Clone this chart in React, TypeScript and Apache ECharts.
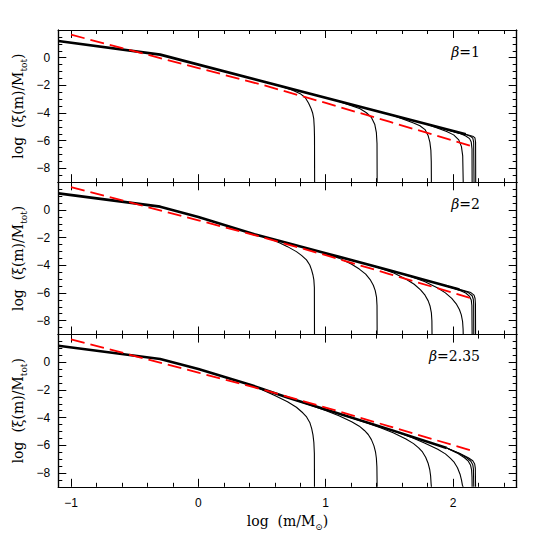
import React, { useEffect, useRef } from "react";
import * as echarts from "echarts";

// ---------- data ----------
const xRange = [-1.1, 2.5];
const yRange = [-9, 2];
const xMajorTicks = [-1, 0, 1, 2];
const xMinorTicks = [-0.8, -0.6, -0.4, -0.2, 0.2, 0.4, 0.6, 0.8, 1.2, 1.4, 1.6, 1.8, 2.2, 2.4];
const yMajorTicks = [-8, -6, -4, -2, 0];
const yMinorTicks = [-8.5, -7.5, -7, -6.5, -5.5, -5, -4.5, -3.5, -3, -2.5, -1.5, -1, -0.5, 0.5, 1, 1.5];
const betaLabels = ["1", "2", "2.35"];

// red dashed reference line (same in each panel)
const redLine = [
  [-1.0, 1.66], [0.0, -0.75], [0.5, -1.96], [1.0, -3.27], [1.5, -4.63], [2.0, -5.99], [2.177, -6.47],
];

// beta = 1
const topTrunk = [[-1.1, 1.2], [-0.3, 0.22], [2.1, -5.54]];
const topCurves = [
  [[0.61, -1.96], [0.74, -2.36], [0.8, -2.6], [0.84, -2.9], [0.865, -3.28], [0.885, -3.67], [0.898, -4.02], [0.906, -4.4], [0.91, -5.0], [0.912, -5.7], [0.913, -9]],
  [[1.1, -3.14], [1.27, -3.69], [1.32, -3.98], [1.36, -4.34], [1.385, -4.81], [1.398, -5.42], [1.403, -6.2], [1.404, -9]],
  [[1.53, -4.17], [1.69, -4.72], [1.74, -4.92], [1.78, -5.2], [1.805, -5.65], [1.818, -6.1], [1.826, -6.7], [1.829, -7.5], [1.83, -9]],
  [[1.8, -4.82], [1.95, -5.33], [2.005, -5.58], [2.045, -5.94], [2.066, -6.43], [2.076, -7.1], [2.08, -9]],
  [[1.9, -5.06], [2.05, -5.47], [2.1, -5.66], [2.13, -5.85], [2.143, -6.1], [2.149, -6.6], [2.15, -9]],
  [[1.9, -5.06], [2.1, -5.56], [2.14, -5.7], [2.155, -5.82], [2.162, -6.1], [2.165, -9]],
  [[2.1, -5.54], [2.16, -5.7], [2.172, -5.8], [2.177, -6.1], [2.178, -9]],
];

// beta = 2
const midTrunk = [[-1.1, 1.2], [-0.3, 0.24], [0.0, -0.5], [0.44, -1.75], [0.64, -2.24], [1.0, -3.12], [1.5, -4.35], [1.95, -5.49], [2.05, -5.74]];
const midCurves = [
  [[0.45, -1.78], [0.55, -2.03], [0.64, -2.38], [0.7, -2.65], [0.77, -3.01], [0.81, -3.28], [0.849, -3.61], [0.875, -3.98], [0.889, -4.33], [0.9, -4.7], [0.907, -5.05], [0.911, -5.6], [0.912, -9]],
  [[0.944, -2.98], [1.104, -3.48], [1.204, -3.92], [1.264, -4.27], [1.314, -4.64], [1.349, -5.03], [1.374, -5.44], [1.389, -5.83], [1.399, -6.3], [1.403, -6.9], [1.404, -9]],
  [[1.375, -4.04], [1.535, -4.56], [1.635, -5.02], [1.695, -5.37], [1.745, -5.77], [1.78, -6.16], [1.805, -6.57], [1.82, -6.96], [1.83, -7.44], [1.834, -8.0], [1.835, -9]],
  [[1.62, -4.65], [1.78, -5.18], [1.88, -5.64], [1.94, -5.99], [1.99, -6.39], [2.025, -6.78], [2.05, -7.19], [2.065, -7.58], [2.075, -8.06], [2.079, -8.6], [2.08, -9]],
  [[1.95, -5.49], [2.05, -5.8], [2.1, -6.0], [2.13, -6.25], [2.143, -6.5], [2.148, -6.9], [2.15, -9]],
  [[1.95, -5.49], [2.05, -5.76], [2.12, -5.97], [2.15, -6.2], [2.159, -6.45], [2.162, -6.8], [2.163, -9]],
  [[1.95, -5.49], [2.05, -5.74], [2.14, -5.97], [2.165, -6.15], [2.173, -6.4], [2.176, -6.8], [2.177, -9]],
];

// beta = 2.35
const botTrunk = [[-1.1, 1.2], [-0.3, 0.24], [0.0, -0.48], [0.4, -1.6], [0.7, -2.55], [1.0, -3.42], [1.5, -4.85], [1.95, -6.2]];
const botCurves = [
  [[0.4, -1.6], [0.5, -1.98], [0.6, -2.4], [0.7, -2.85], [0.77, -3.25], [0.82, -3.65], [0.85, -3.95], [0.875, -4.35], [0.89, -4.8], [0.9, -5.25], [0.907, -5.8], [0.911, -6.6], [0.912, -9]],
  [[0.7, -2.55], [0.904, -3.18], [1.004, -3.5], [1.104, -3.87], [1.204, -4.3], [1.264, -4.62], [1.304, -4.93], [1.334, -5.22], [1.359, -5.59], [1.379, -6.04], [1.391, -6.47], [1.398, -6.94], [1.402, -7.55], [1.404, -9]],
  [[1.0, -3.42], [1.33, -4.4], [1.43, -4.73], [1.53, -5.1], [1.63, -5.55], [1.69, -5.88], [1.73, -6.19], [1.76, -6.48], [1.785, -6.86], [1.805, -7.32], [1.817, -7.75], [1.824, -8.22], [1.828, -8.8], [1.83, -9]],
  [[1.3, -4.28], [1.58, -5.11], [1.68, -5.46], [1.78, -5.85], [1.88, -6.29], [1.94, -6.62], [1.98, -6.95], [2.01, -7.24], [2.035, -7.62], [2.055, -8.09], [2.067, -8.53], [2.074, -8.9], [2.08, -9]],
  [[1.95, -6.2], [2.03, -6.55], [2.09, -6.9], [2.12, -7.15], [2.138, -7.45], [2.146, -7.8], [2.149, -8.3], [2.15, -9]],
  [[1.95, -6.2], [2.05, -6.6], [2.11, -6.92], [2.14, -7.15], [2.155, -7.4], [2.16, -7.7], [2.163, -9]],
  [[1.95, -6.2], [2.05, -6.58], [2.12, -6.9], [2.155, -7.12], [2.17, -7.35], [2.175, -7.65], [2.177, -9]],
];

const trunks = [topTrunk, midTrunk, botTrunk];
const curveSets = [topCurves, midCurves, botCurves];

// ---------- layout ----------
const GRID_LEFT = 58.3;
const GRID_RIGHT = 516.7;
const PANEL_TOPS = [30, 182.3, 334.6];
const PANEL_H = 152.2;
const SERIF = "DejaVu Serif";
const SANS = "Liberation Sans";

const fmt = (v: number) => (v < 0 ? "\u2212" + Math.abs(v) : String(v));

function buildOption() {
  const grid: any[] = [];
  const xAxis: any[] = [];
  const yAxis: any[] = [];
  const series: any[] = [];
  const graphic: any[] = [];

  const axisLine = { show: true, onZero: false, lineStyle: { color: "#000", width: 1.2 } };
  const tickStyle = { color: "#000", width: 1 };

  PANEL_TOPS.forEach((top, g) => {
    grid.push({ left: GRID_LEFT, width: GRID_RIGHT - GRID_LEFT, top, height: PANEL_H, containLabel: false });
    const xb = { gridIndex: g, type: "value", min: xRange[0], max: xRange[1], splitLine: { show: false }, axisLine };
    const yb = { gridIndex: g, type: "value", min: yRange[0], max: yRange[1], splitLine: { show: false }, axisLine };
    xAxis.push(
      {
        ...xb, position: "bottom",
        axisTick: { show: true, inside: true, length: 8, customValues: xMajorTicks, lineStyle: tickStyle },
        axisLabel: { show: g === 2, customValues: xMajorTicks, formatter: fmt, margin: 10, color: "#000", fontSize: 12, fontFamily: SANS },
      },
      { ...xb, position: "bottom", axisTick: { show: true, inside: true, length: 4, customValues: xMinorTicks, lineStyle: tickStyle }, axisLabel: { show: false } },
      { ...xb, position: "top", axisTick: { show: true, inside: true, length: 8, customValues: xMajorTicks, lineStyle: tickStyle }, axisLabel: { show: false } },
      { ...xb, position: "top", axisTick: { show: true, inside: true, length: 4, customValues: xMinorTicks, lineStyle: tickStyle }, axisLabel: { show: false } }
    );
    yAxis.push(
      {
        ...yb, position: "left",
        axisTick: { show: true, inside: true, length: 8, customValues: yMajorTicks, lineStyle: tickStyle },
        axisLabel: { show: true, customValues: yMajorTicks, formatter: fmt, margin: 8, color: "#000", fontSize: 12, fontFamily: SANS },
      },
      { ...yb, position: "left", axisTick: { show: true, inside: true, length: 4, customValues: yMinorTicks, lineStyle: tickStyle }, axisLabel: { show: false } },
      { ...yb, position: "right", axisTick: { show: true, inside: true, length: 8, customValues: yMajorTicks, lineStyle: tickStyle }, axisLabel: { show: false } },
      { ...yb, position: "right", axisTick: { show: true, inside: true, length: 4, customValues: yMinorTicks, lineStyle: tickStyle }, axisLabel: { show: false } }
    );

    const ax = 4 * g;
    series.push({
      type: "line", xAxisIndex: ax, yAxisIndex: ax, data: trunks[g], symbol: "none", silent: true, clip: true,
      lineStyle: { color: "#000", width: 2.6 }, z: 2,
    });
    curveSets[g].forEach((c) => {
      series.push({
        type: "line", xAxisIndex: ax, yAxisIndex: ax, data: c, symbol: "none", silent: true, clip: true,
        lineStyle: { color: "#000", width: 1.1 }, z: 2,
      });
    });
    series.push({
      type: "line", xAxisIndex: ax, yAxisIndex: ax, data: redLine, symbol: "none", silent: true, clip: true,
      lineStyle: { color: "#ff0000", width: 1.8, type: [14, 6] }, z: 3,
    });

    graphic.push({
      type: "text", x: 18, y: top + PANEL_H / 2, rotation: Math.PI / 2,
      style: {
        text: "{m|log  (\u03be(m)/M}{s|tot}{m|)}",
        rich: {
          m: { fontFamily: SERIF, fontSize: 14, lineHeight: 20, fill: "#000" },
          s: { fontFamily: SERIF, fontSize: 9, lineHeight: 12, verticalAlign: "bottom", fill: "#000" },
        },
        align: "center", verticalAlign: "middle", fill: "#000",
      },
    });
    graphic.push({
      type: "text", x: 480, y: top + 21.7,
      style: {
        text: "{b|\u03b2}{m|=" + betaLabels[g] + "}",
        rich: {
          b: { fontFamily: SERIF, fontSize: 14, fontStyle: "italic", fill: "#000" },
          m: { fontFamily: SERIF, fontSize: 14, fill: "#000" },
        },
        align: "right", verticalAlign: "middle", fill: "#000",
      },
    });
  });

  graphic.push({
    type: "text", x: (GRID_LEFT + GRID_RIGHT) / 2, y: 521,
    style: {
      text: "{m|log  (m/M}{s|\u2299}{m|)}",
      rich: {
        m: { fontFamily: SERIF, fontSize: 14, lineHeight: 20, fill: "#000" },
        s: { fontFamily: SERIF, fontSize: 9, lineHeight: 12, verticalAlign: "bottom", fill: "#000" },
      },
      align: "center", verticalAlign: "middle", fill: "#000",
    },
  });

  return { animation: false, backgroundColor: "#fff", grid, xAxis, yAxis, series, graphic };
}

export default function App() {
  const ref = useRef<HTMLDivElement>(null);
  useEffect(() => {
    if (!ref.current) return;
    const chart = echarts.init(ref.current, null, { renderer: "svg" });
    chart.setOption(buildOption() as any);
    return () => chart.dispose();
  }, []);
  return (
    <div
      ref={ref}
      style={{ position: "absolute", left: 0, top: 0, width: 545, height: 545, background: "#fff" }}
    />
  );
}
